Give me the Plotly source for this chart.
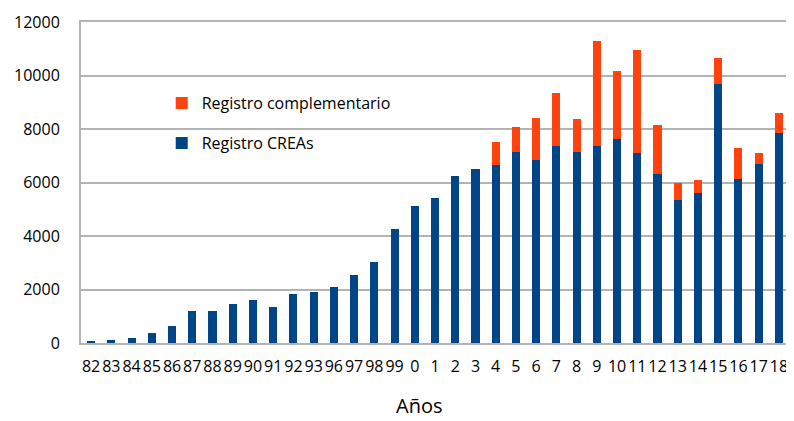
import plotly.graph_objects as go

years = ["82","83","84","85","86","87","88","89","90","91","92","93","96","97","98","99",
         "0","1","2","3","4","5","6","7","8","9","10","11","12","13","14","15","16","17","18"]
creas = [50,120,170,390,620,1180,1180,1475,1610,1330,1835,1920,2080,2540,3030,4250,
         5120,5410,6260,6520,6650,7140,6850,7370,7140,7350,7620,7100,6320,5360,5620,9700,6140,6700,7860]
complementario = [0,0,0,0,0,0,0,0,0,0,0,0,0,0,0,0,
                  0,0,0,0,850,940,1570,1980,1220,3930,2540,3840,1820,620,480,950,1160,420,740]
y_ticks = [0, 2000, 4000, 6000, 8000, 10000, 12000]

FONT = "'Open Sans', 'DejaVu Sans', sans-serif"
fig = go.Figure()
fig.add_trace(go.Bar(x=years, y=creas, name="Registro CREAs",
                     marker=dict(color="#004586", line=dict(width=0)),
                     legendgroup="a", legendrank=2))
fig.add_trace(go.Bar(x=years, y=complementario, name="Registro complementario",
                     marker=dict(color="#ff420e", line=dict(width=0)),
                     legendgroup="b", legendrank=1))

# the page body has an 8px margin, so the figure is shifted by (8, 8)
fig.update_layout(
    width=786, height=413,
    margin=dict(l=73, r=3, t=11, b=78),
    barmode="stack", bargap=0.6,
    plot_bgcolor="white", paper_bgcolor="white",
    font=dict(family=FONT, size=16, color="#000000"),
    showlegend=True,
    legend=dict(x=0.114, y=0.80, xanchor="left", yanchor="top",
                traceorder="grouped", tracegroupgap=16,
                font=dict(size=16), bgcolor="rgba(0,0,0,0)"),
    annotations=[dict(text="Años", x=0.477, y=-0.195, xref="paper", yref="paper",
                      xanchor="center", yanchor="middle", showarrow=False,
                      font=dict(size=20, family=FONT))],
)
fig.update_xaxes(type="category", tickangle=0, showline=True, linecolor="#b3b3b3",
                 linewidth=2, mirror=True, ticks="", ticklabelstandoff=8,
                 tickfont=dict(size=16))
fig.update_yaxes(range=[0, 12000], tickmode="array", tickvals=y_ticks,
                 ticktext=[str(v) for v in y_ticks], showgrid=True,
                 gridcolor="#b3b3b3", gridwidth=1.5, showline=True, linecolor="#b3b3b3",
                 linewidth=2, mirror=True, zeroline=False, ticks="", ticklabelstandoff=16,
                 tickfont=dict(size=16), ticklabeloverflow="allow")

fig.write_html("out.html")
